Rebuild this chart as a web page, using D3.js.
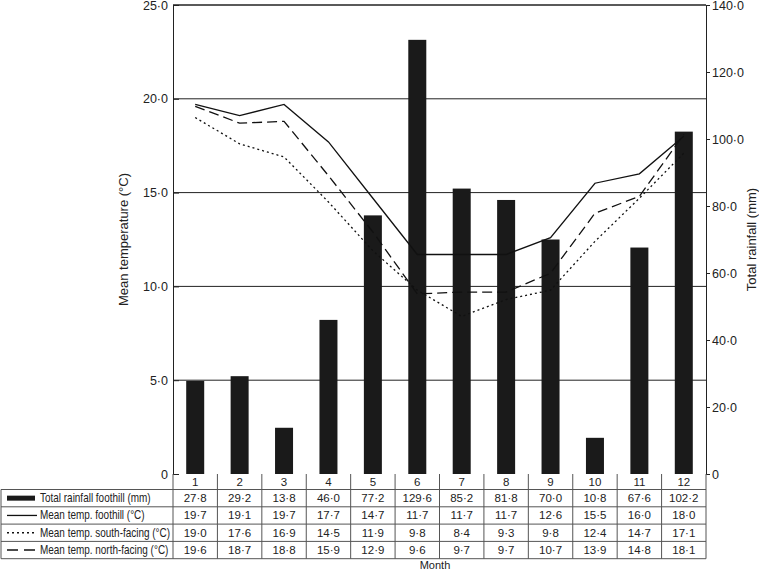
<!DOCTYPE html>
<html>
<head>
<meta charset="utf-8">
<script src="https://cdn.jsdelivr.net/npm/d3@7"></script>
<style>
  body { margin: 0; background: #fff; }
  svg text { font-family: "Liberation Sans", Arial, sans-serif; fill: #222; }
</style>
</head>
<body>
<div id="chart"></div>
<script>
const months = [1, 2, 3, 4, 5, 6, 7, 8, 9, 10, 11, 12];
const rainfall = [27.8, 29.2, 13.8, 46.0, 77.2, 129.6, 85.2, 81.8, 70.0, 10.8, 67.6, 102.2];
const tempFoothill = [19.7, 19.1, 19.7, 17.7, 14.7, 11.7, 11.7, 11.7, 12.6, 15.5, 16.0, 18.0];
const tempSouth = [19.0, 17.6, 16.9, 14.5, 11.9, 9.8, 8.4, 9.3, 9.8, 12.4, 14.7, 17.1];
const tempNorth = [19.6, 18.7, 18.8, 15.9, 12.9, 9.6, 9.7, 9.7, 10.7, 13.9, 14.8, 18.1];
const tempTicks = [0, 5, 10, 15, 20, 25];
const rainTicks = [0, 20, 40, 60, 80, 100, 120, 140];

const rows = [
  { label: "Total rainfall foothill (mm)", values: rainfall, kind: "bar" },
  { label: "Mean temp. foothill (\u00b0C)", values: tempFoothill, kind: "solid" },
  { label: "Mean temp. south-facing (\u00b0C)", values: tempSouth, kind: "dot" },
  { label: "Mean temp. north-facing (\u00b0C)", values: tempNorth, kind: "dash" },
];

const width = 759, height = 571;
const plot = { left: 173, right: 706, top: 5, bottom: 474 };

// decimal point drawn as middle dot, like the journal figure
const fmt = v => v === 0 ? "0" : d3.format(".1f")(v).replace(".", "\u00b7");

const svg = d3.select("#chart").append("svg")
  .attr("width", width).attr("height", height);

const x = d3.scaleBand().domain(months).range([plot.left, plot.right]);
const yT = d3.scaleLinear().domain([0, 25]).range([plot.bottom, plot.top]);
const yR = d3.scaleLinear().domain([0, 140]).range([plot.bottom, plot.top]);

// grid lines
svg.append("g").selectAll("line")
  .data(tempTicks.filter(t => t > 0))
  .join("line")
  .attr("x1", plot.left).attr("x2", plot.right)
  .attr("y1", d => yT(d)).attr("y2", d => yT(d))
  .attr("stroke", "#222").attr("stroke-width", 1);

// bars
const barW = 18;
svg.append("g").attr("fill", "#1a1a1a")
  .selectAll("rect")
  .data(rainfall)
  .join("rect")
  .attr("x", (d, i) => x(months[i]) + x.bandwidth() / 2 - barW / 2)
  .attr("y", d => yR(d))
  .attr("width", barW)
  .attr("height", d => yR(0) - yR(d));

// lines
const dashes = { solid: null, dot: "2,3", dash: "10,5" };
const line = d3.line().x((d, i) => x(months[i]) + x.bandwidth() / 2).y(d => yT(d));
rows.filter(r => r.kind !== "bar").forEach(r => {
  svg.append("path")
    .datum(r.values)
    .attr("d", line)
    .attr("fill", "none")
    .attr("stroke", "#111")
    .attr("stroke-width", 1.3)
    .attr("stroke-dasharray", dashes[r.kind]);
});

// axes
const leftAxis = svg.append("g")
  .attr("transform", `translate(${plot.left},0)`)
  .call(d3.axisLeft(yT).tickValues(tempTicks).tickFormat(fmt).tickSize(-6).tickPadding(5));
const rightAxis = svg.append("g")
  .attr("transform", `translate(${plot.right},0)`)
  .call(d3.axisRight(yR).tickValues(rainTicks).tickFormat(fmt).tickSize(4).tickPadding(2));
[leftAxis, rightAxis].forEach(a => {
  a.select(".domain").attr("stroke", "#222");
  a.selectAll(".tick line").attr("stroke", "#222");
  a.selectAll("text").attr("font-size", 12.5).attr("fill", "#222");
});
svg.append("line")
  .attr("x1", plot.left).attr("x2", plot.right)
  .attr("y1", plot.top).attr("y2", plot.top)
  .attr("stroke", "#222");

svg.append("text")
  .attr("transform", `translate(128,${(plot.top + plot.bottom) / 2}) rotate(-90)`)
  .attr("text-anchor", "middle")
  .attr("font-size", 13)
  .text("Mean temperature (\u00b0C)");
svg.append("text")
  .attr("transform", `translate(756,${(plot.top + plot.bottom) / 2}) rotate(-90)`)
  .attr("text-anchor", "middle")
  .attr("font-size", 13)
  .text("Total rainfall (mm)");

// data table
const headH = 15.5;
const rowH = 17.3;
const tableTop = plot.bottom;
const tableLeft = 1;
const tbl = svg.append("g");
const gridCol = "#555";

// header row with month numbers
months.forEach(m => {
  tbl.append("text")
    .attr("x", x(m) + x.bandwidth() / 2)
    .attr("y", tableTop + headH / 2 + 4)
    .attr("text-anchor", "middle")
    .attr("font-size", 11.5)
    .text(m);
});

rows.forEach((r, ri) => {
  const y0 = tableTop + headH + rowH * ri;
  tbl.append("line")
    .attr("x1", tableLeft).attr("x2", plot.right)
    .attr("y1", y0).attr("y2", y0)
    .attr("stroke", gridCol);
  const cy = y0 + rowH / 2;
  if (r.kind === "bar") {
    tbl.append("rect").attr("x", 7).attr("y", cy - 2.5).attr("width", 28).attr("height", 5).attr("fill", "#1a1a1a");
  } else {
    tbl.append("line")
      .attr("x1", 7).attr("x2", r.kind === "solid" ? 37 : 35).attr("y1", cy).attr("y2", cy)
      .attr("stroke", "#111").attr("stroke-width", r.kind === "solid" ? 1.3 : 1.6)
      .attr("stroke-dasharray", r.kind === "dot" ? "2,3" : (r.kind === "dash" ? "11,6" : null));
  }
  // the original type is narrower than Liberation Sans, so squeeze it horizontally
  tbl.append("text")
    .attr("transform", `translate(40,${cy + 4}) scale(0.83,1)`)
    .attr("font-size", 12)
    .text(r.label);
  r.values.forEach((v, i) => {
    tbl.append("text")
      .attr("x", x(months[i]) + x.bandwidth() / 2)
      .attr("y", cy + 4)
      .attr("text-anchor", "middle")
      .attr("font-size", 11.5)
      .text(fmt(v));
  });
});
const tableBottom = tableTop + headH + rowH * rows.length;
tbl.append("line")
  .attr("x1", tableLeft).attr("x2", plot.right)
  .attr("y1", tableBottom).attr("y2", tableBottom)
  .attr("stroke", gridCol);
// vertical lines
tbl.append("line")
  .attr("x1", tableLeft).attr("x2", tableLeft)
  .attr("y1", tableTop + headH).attr("y2", tableBottom)
  .attr("stroke", gridCol);
months.concat([13]).forEach((m, i) => {
  const xx = i < 12 ? x(m) : plot.right;
  tbl.append("line")
    .attr("x1", xx).attr("x2", xx)
    .attr("y1", tableTop).attr("y2", tableBottom)
    .attr("stroke", gridCol);
});

svg.append("text")
  .attr("x", 435)
  .attr("y", 569)
  .attr("text-anchor", "middle")
  .attr("font-size", 11)
  .text("Month");
</script>
</body>
</html>
